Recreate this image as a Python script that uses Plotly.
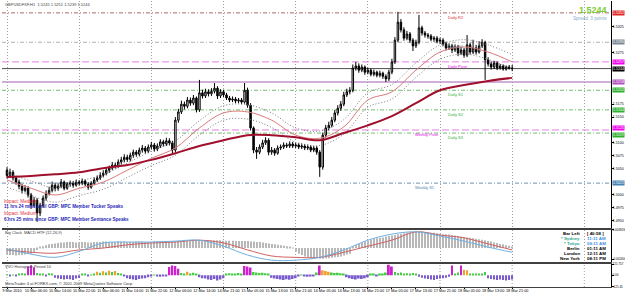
import plotly.graph_objects as go

# ------------------------------------------------------------------ data
tick_labels = ["9 Mar 2010", "10 Mar 06:00", "10 Mar 14:00", "10 Mar 22:00", "11 Mar 06:00",
               "11 Mar 14:00", "11 Mar 22:00", "12 Mar 06:00", "12 Mar 14:00", "14 Mar 21:00",
               "15 Mar 05:00", "15 Mar 13:00", "15 Mar 21:00", "16 Mar 05:00", "16 Mar 13:00",
               "16 Mar 21:00", "17 Mar 05:00", "17 Mar 13:00", "17 Mar 21:00", "18 Mar 05:00",
               "18 Mar 13:00", "18 Mar 21:00"]

first_open = 1.5047
closes = [
    1.5037, 1.5043, 1.5032, 1.5024, 1.5016, 1.5008, 1.5012, 1.4999, 1.4979, 1.4989,
    1.4964, 1.4979, 1.4993, 1.5002, 1.5008, 1.5018, 1.5012, 1.5016, 1.5024, 1.5012,
    1.5020, 1.5022, 1.5018, 1.5024, 1.5022, 1.5026, 1.5020, 1.5014, 1.5022, 1.5028,
    1.5032, 1.5037, 1.5041, 1.5047, 1.5051, 1.5057, 1.5055, 1.5063, 1.5067, 1.5072,
    1.5068, 1.5076, 1.5082, 1.5078, 1.5086, 1.5090, 1.5084, 1.5092, 1.5096, 1.5088,
    1.5094, 1.5102, 1.5098, 1.5104, 1.5100, 1.5086, 1.5144, 1.5160, 1.5175, 1.5171,
    1.5183, 1.5177, 1.5187, 1.5164, 1.5197, 1.5191, 1.5199, 1.5195, 1.5200, 1.5206,
    1.5191, 1.5199, 1.5193, 1.5187, 1.5183, 1.5185, 1.5181, 1.5183, 1.5179, 1.5202,
    1.5173, 1.5129, 1.5086, 1.5082, 1.5092, 1.5100, 1.5105, 1.5082, 1.5086, 1.5080,
    1.5090, 1.5092, 1.5096, 1.5094, 1.5098, 1.5094, 1.5096, 1.5092, 1.5094, 1.5090,
    1.5092, 1.5086, 1.5090, 1.5082, 1.5053, 1.5115, 1.5129, 1.5134, 1.5144, 1.5158,
    1.5167, 1.5175, 1.5193, 1.5199, 1.5202, 1.5245, 1.5249, 1.5241, 1.5247, 1.5237,
    1.5241, 1.5233, 1.5237, 1.5231, 1.5235, 1.5229, 1.5224, 1.5237, 1.5257, 1.5299,
    1.5334, 1.5319, 1.5303, 1.5311, 1.5299, 1.5288, 1.5295, 1.5323, 1.5313, 1.5309,
    1.5307, 1.5301, 1.5303, 1.5297, 1.5299, 1.5292, 1.5284, 1.5288, 1.5280, 1.5286,
    1.5274, 1.5280, 1.5270, 1.5290, 1.5276, 1.5284, 1.5276, 1.5288, 1.5295, 1.5261,
    1.5253, 1.5247, 1.5255, 1.5245, 1.5249, 1.5243, 1.5247, 1.5245, 1.5244]
highs = [
    1.5053, 1.5050, 1.5047, 1.5036, 1.5029, 1.5020, 1.5018, 1.5016, 1.5003, 1.4995,
    1.4993, 1.4984, 1.4998, 1.5008, 1.5015, 1.5025, 1.5023, 1.5021, 1.5030, 1.5027,
    1.5024, 1.5027, 1.5026, 1.5029, 1.5028, 1.5031, 1.5029, 1.5024, 1.5026, 1.5033,
    1.5037, 1.5043, 1.5047, 1.5052, 1.5056, 1.5063, 1.5062, 1.5068, 1.5073, 1.5078,
    1.5077, 1.5081, 1.5087, 1.5086, 1.5091, 1.5096, 1.5094, 1.5097, 1.5102, 1.5100,
    1.5099, 1.5107, 1.5106, 1.5110, 1.5109, 1.5104, 1.5150, 1.5166, 1.5182, 1.5180,
    1.5189, 1.5188, 1.5193, 1.5190, 1.5222, 1.5203, 1.5205, 1.5204, 1.5206, 1.5216,
    1.5210, 1.5204, 1.5203, 1.5197, 1.5191, 1.5190, 1.5189, 1.5187, 1.5187, 1.5216,
    1.5207, 1.5177, 1.5132, 1.5092, 1.5097, 1.5106, 1.5111, 1.5109, 1.5092, 1.5090,
    1.5095, 1.5097, 1.5101, 1.5100, 1.5103, 1.5102, 1.5100, 1.5100, 1.5099, 1.5098,
    1.5097, 1.5096, 1.5094, 1.5094, 1.5086, 1.5120, 1.5135, 1.5141, 1.5150, 1.5164,
    1.5173, 1.5181, 1.5199, 1.5205, 1.5208, 1.5252, 1.5257, 1.5254, 1.5252, 1.5250,
    1.5246, 1.5244, 1.5242, 1.5240, 1.5240, 1.5238, 1.5233, 1.5242, 1.5263, 1.5305,
    1.5354, 1.5340, 1.5324, 1.5317, 1.5315, 1.5303, 1.5300, 1.5348, 1.5327, 1.5317,
    1.5313, 1.5311, 1.5307, 1.5307, 1.5304, 1.5303, 1.5296, 1.5293, 1.5292, 1.5291,
    1.5290, 1.5286, 1.5284, 1.5309, 1.5294, 1.5300, 1.5290, 1.5297, 1.5301, 1.5298,
    1.5266, 1.5258, 1.5259, 1.5258, 1.5253, 1.5252, 1.5250, 1.5251, 1.5251]
lows = [
    1.5031, 1.5033, 1.5027, 1.5019, 1.5010, 1.5002, 1.5004, 1.4994, 1.4972, 1.4975,
    1.4947, 1.4958, 1.4975, 1.4988, 1.4998, 1.5004, 1.5006, 1.5007, 1.5012, 1.5008,
    1.5009, 1.5015, 1.5013, 1.5015, 1.5017, 1.5018, 1.5016, 1.5009, 1.5011, 1.5018,
    1.5024, 1.5028, 1.5033, 1.5037, 1.5042, 1.5047, 1.5050, 1.5051, 1.5058, 1.5062,
    1.5063, 1.5064, 1.5071, 1.5073, 1.5074, 1.5081, 1.5079, 1.5080, 1.5087, 1.5083,
    1.5084, 1.5090, 1.5093, 1.5094, 1.5095, 1.5080, 1.5082, 1.5139, 1.5156, 1.5165,
    1.5167, 1.5172, 1.5173, 1.5159, 1.5160, 1.5186, 1.5187, 1.5190, 1.5191, 1.5196,
    1.5185, 1.5187, 1.5189, 1.5183, 1.5179, 1.5179, 1.5177, 1.5177, 1.5175, 1.5176,
    1.5168, 1.5124, 1.5080, 1.5069, 1.5078, 1.5088, 1.5096, 1.5076, 1.5077, 1.5075,
    1.5077, 1.5086, 1.5088, 1.5090, 1.5090, 1.5090, 1.5090, 1.5088, 1.5088, 1.5086,
    1.5086, 1.5082, 1.5082, 1.5077, 1.5034, 1.5048, 1.5110, 1.5124, 1.5130, 1.5140,
    1.5153, 1.5162, 1.5171, 1.5189, 1.5194, 1.5198, 1.5240, 1.5236, 1.5237, 1.5232,
    1.5233, 1.5229, 1.5229, 1.5227, 1.5227, 1.5224, 1.5218, 1.5220, 1.5233, 1.5253,
    1.5295, 1.5314, 1.5298, 1.5299, 1.5294, 1.5278, 1.5284, 1.5291, 1.5308, 1.5304,
    1.5302, 1.5297, 1.5296, 1.5293, 1.5292, 1.5287, 1.5279, 1.5280, 1.5274, 1.5276,
    1.5268, 1.5270, 1.5265, 1.5266, 1.5271, 1.5272, 1.5271, 1.5273, 1.5284, 1.5222,
    1.5248, 1.5242, 1.5243, 1.5241, 1.5242, 1.5240, 1.5240, 1.5242, 1.5239]

# moving averages / envelopes, read every 8 bars
ma_long = [1.5034, 1.5036, 1.5039, 1.5043, 1.5051, 1.5057, 1.5067, 1.5080, 1.5094, 1.5105, 1.5115,
           1.5115, 1.5111, 1.5105, 1.5119, 1.5134, 1.5152, 1.5177, 1.5202, 1.5212, 1.5220, 1.5226]
ma_short = [1.5028, 1.5012, 1.4999, 1.5012, 1.5024, 1.5047, 1.5070, 1.5090, 1.5129, 1.5158, 1.5160,
            1.5144, 1.5115, 1.5109, 1.5131, 1.5183, 1.5199, 1.5241, 1.5276, 1.5286, 1.5276, 1.5257]
env_upper = [1.5042, 1.5026, 1.5013, 1.5026, 1.5038, 1.5061, 1.5084, 1.5104, 1.5143, 1.5172, 1.5174,
             1.5158, 1.5129, 1.5123, 1.5145, 1.5197, 1.5213, 1.5255, 1.5290, 1.5300, 1.5290, 1.5271]
env_lower = [1.5014, 1.4998, 1.4985, 1.4998, 1.5010, 1.5033, 1.5056, 1.5076, 1.5115, 1.5144, 1.5146,
             1.5130, 1.5101, 1.5095, 1.5117, 1.5169, 1.5185, 1.5227, 1.5262, 1.5272, 1.5262, 1.5243]

# MACD HTF (12,26,9)
macd_hist = [
    -0.0014, -0.0015, -0.0015, -0.0016, -0.0015, -0.0015, -0.0014, -0.0013, -0.0012,
    -0.0008, -0.0004,
    0.0002, 0.0004, 0.0006, 0.0008, 0.0009, 0.0010, 0.0011, 0.0012, 0.0012, 0.0013,
    0.0013, 0.0013, 0.0012, 0.0012, 0.0013, 0.0013, 0.0012, 0.0012, 0.0013, 0.0013,
    0.0013, 0.0014, 0.0014, 0.0013, 0.0013, 0.0013, 0.0014, 0.0014, 0.0014, 0.0013,
    0.0013, 0.0013, 0.0014, 0.0014, 0.0014, 0.0013, 0.0013, 0.0013, 0.0014, 0.0014,
    0.0014, 0.0014, 0.0014, 0.0014, 0.0014, 0.0015, 0.0015, 0.0015, 0.0016, 0.0016,
    0.0016, 0.0017, 0.0017, 0.0017, 0.0017, 0.0017, 0.0017, 0.0017, 0.0017, 0.0017,
    0.0017, 0.0016, 0.0016, 0.0016, 0.0016, 0.0015, 0.0015, 0.0015, 0.0015, 0.0015,
    0.0014, 0.0014, 0.0013, 0.0013, 0.0012,
    0.0011, 0.0010, 0.0009, 0.0008, 0.0007, 0.0006, 0.0005, 0.0004, 0.0003, 0.0001,
    -0.0008, -0.0012, -0.0015, -0.0018, -0.0020, -0.0021, -0.0022, -0.0022, -0.0023, -0.0023,
    -0.0022, -0.0022, -0.0021, -0.0020, -0.0019, -0.0018, -0.0016, -0.0014, -0.0012,
    0.0002, 0.0006, 0.0009, 0.0012, 0.0014, 0.0016, 0.0018, 0.0020, 0.0021, 0.0022, 0.0023,
    0.0025, 0.0026, 0.0027, 0.0028, 0.0030, 0.0031, 0.0032, 0.0033, 0.0034, 0.0034,
    0.0035, 0.0035, 0.0035, 0.0034, 0.0034, 0.0033, 0.0033, 0.0032, 0.0031, 0.0030,
    0.0030, 0.0029, 0.0028, 0.0027, 0.0026, 0.0025, 0.0024, 0.0023, 0.0022, 0.0021,
    0.0020, 0.0019, 0.0018, 0.0017, 0.0015, 0.0014, 0.0012, 0.0011, 0.0009, 0.0008,
    0.0006, 0.0005, 0.0003]
macd_main = [-0.0002, -0.0013, -0.0020, -0.0007, 0.0011, 0.0013, 0.0013, 0.0015, 0.0017, 0.0004, -0.0015,
             -0.0026, -0.0026, -0.0020, -0.0004, 0.0017, 0.0030, 0.0035, 0.0026, 0.0015, 0.0002, -0.0009]
macd_signal = [-0.0004, -0.0009, -0.0011, -0.0004, 0.0000, 0.0007, 0.0011, 0.0013, 0.0017, 0.0011, -0.0004,
               -0.0017, -0.0020, -0.0020, -0.0009, 0.0004, 0.0017, 0.0035, 0.0028, 0.0022, 0.0009, -0.0004]

# VVO Histogram Period 10
vvo = [8, -6, 5, -8, 15, 22, 18, 95, 110, 88,
       25, 20, 10, -5, 22, 18, -25, -35, -40, -45,
       -38, -42, -50, -35, -28, 15, 12, -5, 8, 10,
       40, 28, 45, 30, 50, 35, 48, 25, 20, -8,
       -30, -38, -45, -50, -40, -35, -30, -20, -8, 5,
       -12, -15, -10, -12, 90, 105, 100, 70, 25, 18,
       40, 20, 28, 15, -20, -30, -35, -45, -50, -40,
       -55, -45, -30, 18, 22, 15, 20, 25, 18, 100,
       95, 85, 35, 30, 25, 28, 22, 20, -25, -35,
       -40, -45, -50, -42, -48, -38, -30, -10, 8, -12,
       -15, -8, -12, 30, 105, 55, 48, 40, 30, 25,
       28, 22, 20, -20, -30, -38, -45, -35, -40, -30,
       -20, 10, 12, -8, 15, 20, 30, 115, 95, 35,
       25, 30, 20, 22, 18, 25, 15, -15, -25, -35,
       -40, -45, -50, -40, -35, -30, -25, -15, 105, 20,
       30, 105, 60, 55, 15, 18, 12, 20, 15, 36,
       -30, -40, -45, -50, -45, -50, -55, -50, -45]

level_names = ["Daily R2", "Daily R1", "Daily Pivot", "Bid", "Level", "Daily S1", "Daily S2",
               "Weekly Pivot", "Daily S3", "Weekly S1"]
level_values = [1.5352, 1.5295, 1.5257, 1.5244, 1.5218, 1.5202, 1.5164, 1.5125, 1.5119, 1.5022]

clock_names = ["Bar Left", "* Sydney", "* Tokyo", "Berlin", "London", "New York"]
clock_times = ["[ 40:58 ]", "11:11 AM", "09:11 AM", "01:11 AM", "12:11 AM", "08:11 PM"]

macd_scale = [0.003926, -0.002400]
vvo_scale = [121.757, 0.0, -121.45]
spread_points = 3

assert len(closes) == len(highs) == len(lows) == len(macd_hist) == len(vvo) == 169

# ------------------------------------------------------------------ styles
W, H = 625, 293
ML, MR, MT, MB = 2, 14, 1, 6
PW, PH = W - ML - MR, H - MT - MB
FONT = "Liberation Sans, Arial, sans-serif"


def fx(px):
    return (px - ML) / PW


def fy(py):
    return (H - MB - py) / PH


level_style = {
    "Daily R2": ("#b06a6a", "4px,2px,1px,2px", "#e02828", 0),
    "Daily R1": ("#b0b0b0", "4px,2px,1px,2px", "#7c8894", 0),
    "Daily Pivot": ("#e080e0", "7px,3px", "#ee00ee", 0),
    "Bid": ("#505050", "solid", "#000000", 0),
    "Level": ("#a060b0", "solid", "#b050c0", 0),
    "Daily S1": ("#70c070", "4px,2px,1px,2px", "#30b030", 0),
    "Daily S2": ("#70c070", "4px,2px,1px,2px", "#30b030", 0),
    "Weekly Pivot": ("#e080e0", "7px,3px", "#ee00ee", 2),
    "Daily S3": ("#70c070", "4px,2px,1px,2px", "#30b030", -2),
    "Weekly S1": ("#7090b0", "4px,2px,1px,2px", "#4682b4", 0),
}
label_bar = {"Daily": 146, "Weekly": 135}

bars = list(range(len(closes)))
opens = [first_open] + closes[:-1]
step = len(bars) // (len(ma_long) - 1)
ma_bars = bars[::step]
tick_bars = bars[::step]
grid_bars = list(range(0, 200, 24))
# price scale ticks, leaving room for the level boxes drawn over the scale
price_ticks = [t for t in (round(1.4950 + 0.0025 * k, 4) for k in range(17))
               if min(abs(t - v) for v in level_values) > 0.0009]


def vvo_color(v):
    if v < 0:
        return "#7a5ccc"
    if v >= 70:
        return "#cc22cc"
    if v >= 38:
        return "#f0a030"
    return "#44cc44"


fig = go.Figure()

fig.add_trace(go.Candlestick(
    x=bars, open=opens, high=highs, low=lows, close=closes,
    increasing=dict(fillcolor="white", line=dict(color="black", width=1)),
    decreasing=dict(fillcolor="black", line=dict(color="black", width=1)),
    whiskerwidth=0, xaxis="x", yaxis="y", showlegend=False))

for ys, col, w, dash in [(env_upper, "#787878", 1, "1px,2px"), (env_lower, "#787878", 1, "1px,2px"),
                         (ma_short, "#d87878", 1, "solid"), (ma_long, "#a0102c", 2, "solid")]:
    fig.add_trace(go.Scatter(x=ma_bars, y=ys, mode="lines", xaxis="x", yaxis="y",
                             line=dict(color=col, width=w, dash=dash, shape="spline", smoothing=1.0),
                             showlegend=False))

fig.add_trace(go.Bar(x=bars, y=macd_hist, width=0.35, marker=dict(color="#b8b8b8", line=dict(width=0)),
                     xaxis="x2", yaxis="y2", showlegend=False))
fig.add_trace(go.Scatter(x=ma_bars, y=macd_signal, mode="lines", xaxis="x2", yaxis="y2",
                         line=dict(color="#d06060", width=1, shape="spline"), showlegend=False))
fig.add_trace(go.Scatter(x=ma_bars, y=macd_main, mode="lines", xaxis="x2", yaxis="y2",
                         line=dict(color="#70b0e0", width=1, shape="spline"), showlegend=False))

fig.add_trace(go.Bar(x=bars, y=vvo, width=0.6,
                     marker=dict(color=[vvo_color(v) for v in vvo], line=dict(width=0)),
                     xaxis="x3", yaxis="y3", showlegend=False))

shapes = []
annotations = []
for gb in grid_bars:
    shapes.append(dict(type="line", xref="x3", x0=gb, x1=gb, yref="y3 domain", y0=0, y1=1,
                       line=dict(color="#a0a0a0", width=1, dash="1px,2px"), layer="below"))

for name, val in zip(level_names, level_values):
    lc, dash, bc, ysh = level_style[name]
    shapes.append(dict(type="line", xref="x domain", x0=0, x1=1, yref="y", y0=val, y1=val,
                       line=dict(color=lc, width=1, dash=dash), layer="below"))
    annotations.append(dict(x=1, xref="paper", xanchor="left", xshift=1, y=val, yref="y", yshift=ysh,
                            text=f"{val:.4f}", showarrow=False, bgcolor=bc, borderpad=0,
                            font=dict(family=FONT, size=3.6, color="white")))
    kind = name.split()[0]
    if kind in label_bar:
        annotations.append(dict(x=label_bar[kind], xref="x", xanchor="left", y=val, yref="y",
                                yanchor="top", text=name, showarrow=False,
                                font=dict(family=FONT, size=4, color=bc)))


def txt(x, y, s, size=4, color="#303030", anchor="left", bold=False):
    if bold:
        s = f"<b>{s}</b>"
    annotations.append(dict(x=fx(x), y=fy(y), xref="paper", yref="paper", xanchor=anchor,
                            yanchor="middle", text=s, showarrow=False,
                            font=dict(family=FONT, size=size, color=color)))


txt(3, 4, f"GBPUSDFXF,H1  {opens[-1]:.4f} {highs[-1]:.4f} {lows[-1]:.4f} {closes[-1]:.4f}", 4, "#404040")
txt(609, 10, f"{closes[-1]:.4f}", 9, "#7ccd32", "right", True)
txt(609, 18, f"Spread: {spread_points} points", 4.6, "#8aa8c8", "right")
txt(2, 201, "Impact: Medium", 4.6, "#e03040")
txt(2, 207, "11 hrs 24 mins until GBP: MPC Member Tucker Speaks", 4.6, "#2a2ab8", bold=True)
txt(2, 213, "Impact: Medium", 4.6, "#e03040")
txt(2, 219, "6 hrs 25 mins since GBP: MPC Member Sentance Speaks", 4.6, "#2a2ab8", bold=True)
txt(3, 232, "Big Clock", 4, "#404040")
txt(22, 232, "MACD HTF (12,26,9)", 4, "#404040")
txt(3, 266, "VVO Histogram Period 10", 4, "#404040")
txt(3, 283, "MetaTrader 4 at FOREX.com, \u00a9 2001-2009 MetaQuotes Software Corp.", 4, "#303030")

clock_rows = [233, 238, 243, 248, 253, 258]
for i, (n, t) in enumerate(zip(clock_names, clock_times)):
    ncol = "#30a890" if n.startswith("*") else "#000000"
    tcol = "#3a8ee0" if n.startswith("*") else "#000000"
    txt(582, clock_rows[i], n, 4.4, ncol, "right", True)
    txt(585, clock_rows[i], t, 4.4, tcol, "left", True)

main_dom = [fy(228), 1]
macd_dom = [fy(262), fy(229.5)]
hist_dom = [0, fy(263.5)]
xr = [(ML - 7) / 3.007, (ML + PW - 7) / 3.007]

grid = dict(showgrid=True, gridcolor="#a0a0a0", gridwidth=1, griddash="1px,2px")
xcommon = dict(range=xr, zeroline=False, showline=True, linecolor="#404040", linewidth=1,
               automargin=False, fixedrange=True)


def yaxis_style(size):
    return dict(side="right", showgrid=False, zeroline=False, showline=True, linecolor="#000000",
                linewidth=1, ticks="outside", ticklen=2, tickcolor="#000000", automargin=False,
                ticklabelstandoff=-2, tickfont=dict(family=FONT, size=size, color="#000000"))


fig.update_layout(
    width=W, height=H, margin=dict(l=ML, r=MR, t=MT, b=MB),
    paper_bgcolor="white", plot_bgcolor="white", showlegend=False, hovermode=False,
    font=dict(family=FONT, size=4),
    xaxis=dict(domain=[0, 1], anchor="y", showticklabels=False, tickmode="linear", tick0=0, dtick=24,
               ticks="", rangeslider=dict(visible=False), **grid, **xcommon),
    xaxis2=dict(domain=[0, 1], anchor="y2", matches="x", showticklabels=False, tickmode="linear",
                tick0=0, dtick=24, ticks="", mirror=True, **grid, **xcommon),
    xaxis3=dict(domain=[0, 1], anchor="y3", matches="x", tickmode="array", tickvals=tick_bars,
                ticktext=tick_labels, ticks="outside", ticklen=1, tickcolor="#000000", tickangle=0,
                ticklabelshift=5, ticklabelstandoff=-2,
                tickfont=dict(family=FONT, size=3.8, color="#000000"), mirror=True,
                showgrid=False, **xcommon),
    yaxis=dict(domain=main_dom, anchor="x", range=[1.4935, 1.5375], tickvals=price_ticks,
               tickformat=".4f", **yaxis_style(3.6)),
    yaxis2=dict(domain=macd_dom, anchor="x2", range=[-0.0030, 0.0040], tickvals=macd_scale,
                ticktext=[f"{v:.6f}" for v in macd_scale], **yaxis_style(3.0)),
    yaxis3=dict(domain=hist_dom, anchor="x3", range=[vvo_scale[2] - 4, vvo_scale[0] + 6],
                tickvals=vvo_scale, ticktext=["121.757", "0.00", "-121.45"], **yaxis_style(3.0)),
    shapes=shapes, annotations=annotations,
)

fig.write_html("out.html")
